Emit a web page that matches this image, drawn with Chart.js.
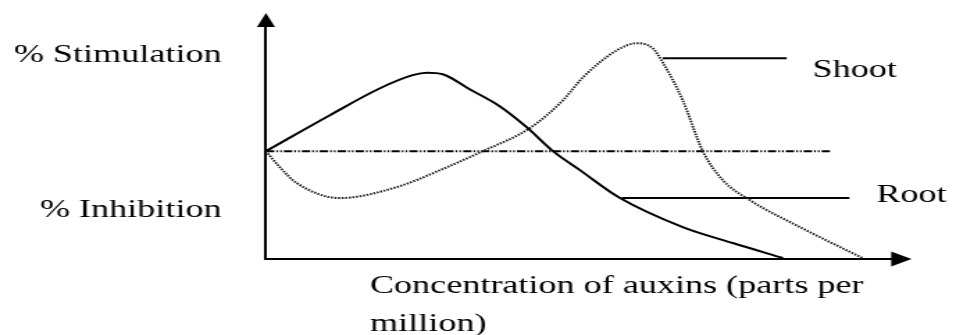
<!DOCTYPE html>
<html>
<head>
<meta charset="utf-8">
<script src="https://cdn.jsdelivr.net/npm/chart.js@4.4.1/dist/chart.umd.min.js"></script>
<style>
  html, body { margin: 0; padding: 0; background: #fff; overflow: hidden; }
  /* the source figure is stretched sideways, so the chart is drawn narrow and widened */
  #wrap { width: 688px; height: 335px; transform: scaleX(1.3895); transform-origin: 0 0; }
</style>
</head>
<body>
<div id="wrap"><canvas id="chart" width="688" height="335"></canvas></div>
<script>
// x: auxin concentration (relative units 0-100), y: response (+ stimulation / - inhibition)
const rootX = [0, 10.2, 18.2, 23.4, 25.7, 28.2, 32.5, 37.3, 41.6, 45.8, 50.1, 56.5, 66.5, 74.5, 82.5];
const rootY = [0, 33.3, 58.3, 70.4, 72.7, 71.3, 57.4, 41.7, 22.2, 0, -17.6, -43.5, -70.4, -85.2, -99.1];

const shootX = [0, 2.2, 4.9, 11.8, 20.9, 27.8, 34.6, 42.1, 47.4, 50.6, 56.0, 59.2, 61.7, 63.3, 66.5, 69.7, 72.9, 77.2, 85.2, 95.2];
const shootY = [0, -14.8, -29.6, -43.5, -33.3, -17.6, 0, 21.3, 47.2, 68.5, 93.5, 100, 95.4, 82.4, 47.2, 0, -26.9, -45.4, -70.4, -99.1];

const baselineX = [0, 90];
const baselineY = [0, 0];

// leader lines from the curves to their names
const shootPointerX = [63.3, 83.1];
const shootPointerY = [86.1, 86.1];
const rootPointerX = [56.8, 93.1];
const rootPointerY = [-43.5, -43.5];

const curveLabels = ['Shoot', 'Root'];
const curveLabelX = [87.2, 97.4];
const curveLabelY = [68.5, -47.2];

const sideLabels = ['% Stimulation', '% Inhibition'];
const sideLabelY = [82.4, -61.1];

const xTitle = ['Concentration of auxins (parts per', 'million)'];
const xTitleStart = 16.6;

const FONT = "26px 'Liberation Serif', 'Times New Roman', serif";

const toPoints = (xs, ys) => xs.map((x, i) => ({ x, y: ys[i] }));

const annotations = {
  id: 'annotations',
  afterDraw(chart) {
    const { ctx, chartArea, scales: { x, y } } = chart;
    ctx.save();

    // arrow heads on the axes
    ctx.fillStyle = '#000';
    ctx.beginPath();
    ctx.moveTo(chartArea.left, chartArea.top - 13);
    ctx.lineTo(chartArea.left - 6.5, chartArea.top + 1);
    ctx.lineTo(chartArea.left + 6.5, chartArea.top + 1);
    ctx.closePath();
    ctx.fill();

    ctx.beginPath();
    ctx.moveTo(chartArea.right + 13.6, chartArea.bottom);
    ctx.lineTo(chartArea.right - 1, chartArea.bottom - 7.5);
    ctx.lineTo(chartArea.right - 1, chartArea.bottom + 7.5);
    ctx.closePath();
    ctx.fill();

    ctx.font = FONT;
    ctx.fillStyle = '#000';
    ctx.textBaseline = 'alphabetic';

    ctx.textAlign = 'right';
    sideLabels.forEach((txt, i) => {
      ctx.fillText(txt, chartArea.left - 32, y.getPixelForValue(sideLabelY[i]));
    });

    ctx.textAlign = 'left';
    curveLabels.forEach((txt, i) => {
      ctx.fillText(txt, x.getPixelForValue(curveLabelX[i]), y.getPixelForValue(curveLabelY[i]));
    });

    const titleX = x.getPixelForValue(xTitleStart);
    ctx.fillText(xTitle[0], titleX, chartArea.bottom + 34);
    ctx.fillText(xTitle[1], titleX, chartArea.bottom + 72);

    ctx.restore();
  }
};

const axisBase = {
  type: 'linear',
  grid: { display: false, drawTicks: false },
  ticks: { display: false },
  border: { display: true, color: '#000', width: 2 }
};

new Chart(document.getElementById('chart'), {
  type: 'line',
  data: {
    datasets: [
      {
        label: 'Root',
        data: toPoints(rootX, rootY),
        borderColor: '#000',
        borderWidth: 2,
        cubicInterpolationMode: 'monotone'
      },
      {
        label: 'Shoot',
        data: toPoints(shootX, shootY),
        borderColor: '#222',
        borderWidth: 2,
        borderDash: [1.5, 1.1],
        cubicInterpolationMode: 'monotone'
      },
      {
        label: 'Baseline',
        data: toPoints(baselineX, baselineY),
        borderColor: '#000',
        borderWidth: 2,
        borderDash: [6, 1.5, 1.2, 1.5, 1.2, 1.5]
      },
      {
        label: 'Shoot pointer',
        data: toPoints(shootPointerX, shootPointerY),
        borderColor: '#000',
        borderWidth: 2
      },
      {
        label: 'Root pointer',
        data: toPoints(rootPointerX, rootPointerY),
        borderColor: '#000',
        borderWidth: 2
      }
    ]
  },
  options: {
    responsive: false,
    animation: false,
    clip: false,
    elements: { point: { radius: 0, hoverRadius: 0 } },
    layout: { padding: { left: 191.4, right: 45.6, top: 26, bottom: 76 } },
    plugins: {
      legend: { display: false },
      tooltip: { enabled: false }
    },
    scales: {
      x: {
        ...axisBase,
        position: 'bottom',
        min: 0,
        max: 100,
        afterFit: (scale) => { scale.height = 0; }
      },
      y: {
        ...axisBase,
        position: 'left',
        min: -100,
        max: 116,
        afterFit: (scale) => { scale.width = 0; }
      }
    }
  },
  plugins: [annotations]
});
</script>
</body>
</html>
